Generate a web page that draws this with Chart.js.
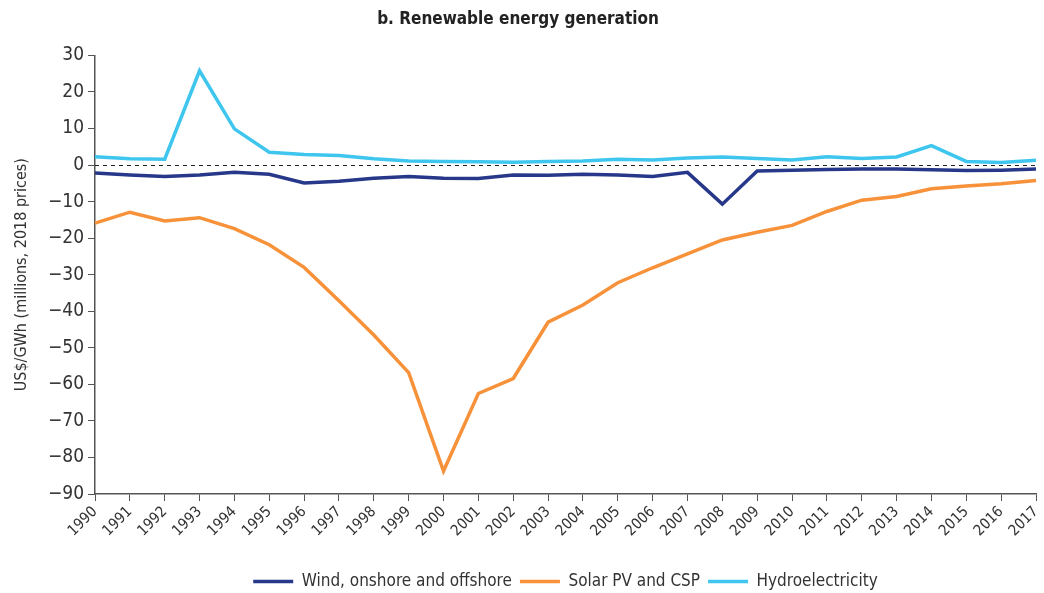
<!DOCTYPE html>
<html>
<head>
<meta charset="utf-8">
<script src="https://cdn.jsdelivr.net/npm/chart.js@4"></script>
<style>
  html, body { margin: 0; padding: 0; background: #fff; }
  #wrap { width: 1044px; height: 593px; position: relative; }
</style>
</head>
<body>
<div id="wrap"><canvas id="renewablesChart"></canvas></div>
<script>
const years = ["1990", "1991", "1992", "1993", "1994", "1995", "1996", "1997", "1998", "1999",
  "2000", "2001", "2002", "2003", "2004", "2005", "2006", "2007", "2008", "2009",
  "2010", "2011", "2012", "2013", "2014", "2015", "2016", "2017"];

const windValues = [-2.2, -2.7, -3.1, -2.7, -2.0, -2.5, -4.9, -4.4, -3.6, -3.1,
  -3.6, -3.7, -2.7, -2.8, -2.5, -2.7, -3.1, -2.0, -10.7, -1.6,
  -1.4, -1.2, -1.1, -1.1, -1.3, -1.5, -1.4, -1.1];

const solarValues = [-15.9, -12.9, -15.3, -14.4, -17.4, -21.8, -28.0, -37.1, -46.5, -56.8,
  -83.7, -62.5, -58.4, -43.0, -38.3, -32.2, -28.1, -24.3, -20.5, -18.4,
  -16.5, -12.7, -9.6, -8.6, -6.5, -5.7, -5.1, -4.2];

const hydroValues = [2.3, 1.7, 1.6, 25.8, 9.9, 3.5, 2.9, 2.6, 1.7, 1.1,
  1.0, 0.9, 0.8, 1.0, 1.1, 1.6, 1.4, 1.9, 2.2, 1.8,
  1.4, 2.3, 1.8, 2.2, 5.3, 1.0, 0.7, 1.3];

const yTicks = [30, 20, 10, 0, -10, -20, -30, -40, -50, -60, -70, -80, -90];

const fontFamily = '"DejaVu Sans Condensed", "Liberation Sans", Arial, sans-serif';
const axisColor = "#555555";
const textColor = "#333333";

// dashed zero line, and legend centred under the plot area
const zeroLine = {
  id: "zeroLine",
  beforeDraw(chart) {
    if (chart.legend) {
      chart.legend.left = chart.chartArea.left;
      chart.legend.right = chart.chartArea.right;
    }
  },
  beforeDatasetsDraw(chart) {
    const { ctx, chartArea, scales } = chart;
    const y = Math.round(scales.y.getPixelForValue(0)) + 0.5;
    ctx.save();
    ctx.strokeStyle = "#222222";
    ctx.lineWidth = 1;
    ctx.setLineDash([4, 4]);
    ctx.beginPath();
    ctx.moveTo(chartArea.left, y);
    ctx.lineTo(chartArea.right, y);
    ctx.stroke();
    ctx.restore();
  },
};

const dataRenewables = {
  labels: years,
  datasets: [
    {
      label: "Wind, onshore and offshore",
      data: windValues,
      borderColor: "#27388A",
      backgroundColor: "#27388A",
      borderWidth: 3.5,
      pointRadius: 0,
      tension: 0,
    },
    {
      label: "Solar PV and CSP",
      data: solarValues,
      borderColor: "#F7913A",
      backgroundColor: "#F7913A",
      borderWidth: 3.5,
      pointRadius: 0,
      tension: 0,
    },
    {
      label: "Hydroelectricity",
      data: hydroValues,
      borderColor: "#3EC6EE",
      backgroundColor: "#3EC6EE",
      borderWidth: 3.5,
      pointRadius: 0,
      tension: 0,
    },
  ],
};

const configRenewables = {
  type: "line",
  data: dataRenewables,
  plugins: [zeroLine],
  options: {
    responsive: false,
    animation: false,
    layout: { padding: { top: 0, right: 8, bottom: -7, left: 0 } },
    plugins: {
      title: {
        display: true,
        text: "b. Renewable energy generation",
        color: "#222222",
        font: { family: fontFamily, size: 17, weight: "bold" },
        padding: { top: 9, bottom: 26 },
      },
      legend: {
        position: "bottom",
        labels: {
          usePointStyle: true,
          pointStyle: "line",
          pointStyleWidth: 40,
          boxWidth: 40,
          color: textColor,
          padding: 8,
          font: { family: fontFamily, size: 17 },
        },
      },
      tooltip: { enabled: false },
    },
    scales: {
      x: {
        offset: false,
        grid: {
          drawOnChartArea: false,
          drawTicks: true,
          tickLength: 7,
          color: axisColor,
        },
        border: { color: axisColor, width: 1.5 },
        ticks: {
          color: textColor,
          maxRotation: 45,
          minRotation: 45,
          autoSkip: false,
          padding: 2,
          font: { family: fontFamily, size: 15 },
        },
        afterFit(scale) {
          scale.height = 71;
          scale.paddingRight = 0;
        },
      },
      y: {
        min: -90,
        max: 30,
        afterBuildTicks(scale) {
          scale.ticks = yTicks.map((v) => ({ value: v }));
        },
        grid: {
          drawOnChartArea: false,
          drawTicks: true,
          tickLength: 7,
          color: axisColor,
        },
        border: { color: axisColor, width: 1.5 },
        ticks: {
          color: textColor,
          padding: 4,
          font: { family: fontFamily, size: 19 },
          callback: (v) => (v < 0 ? "\u2212" + Math.abs(v) : String(v)),
        },
        title: {
          display: true,
          text: "US$/GWh (millions, 2018 prices)",
          color: textColor,
          padding: { top: 12, bottom: 4 },
          font: { family: fontFamily, size: 16 },
        },
        afterFit(scale) {
          scale.width = 95;
        },
      },
    },
  },
};

const renewablesChart = document.getElementById("renewablesChart");
renewablesChart.width = 1044;
renewablesChart.height = 593;
new Chart(renewablesChart, configRenewables);
</script>
</body>
</html>
